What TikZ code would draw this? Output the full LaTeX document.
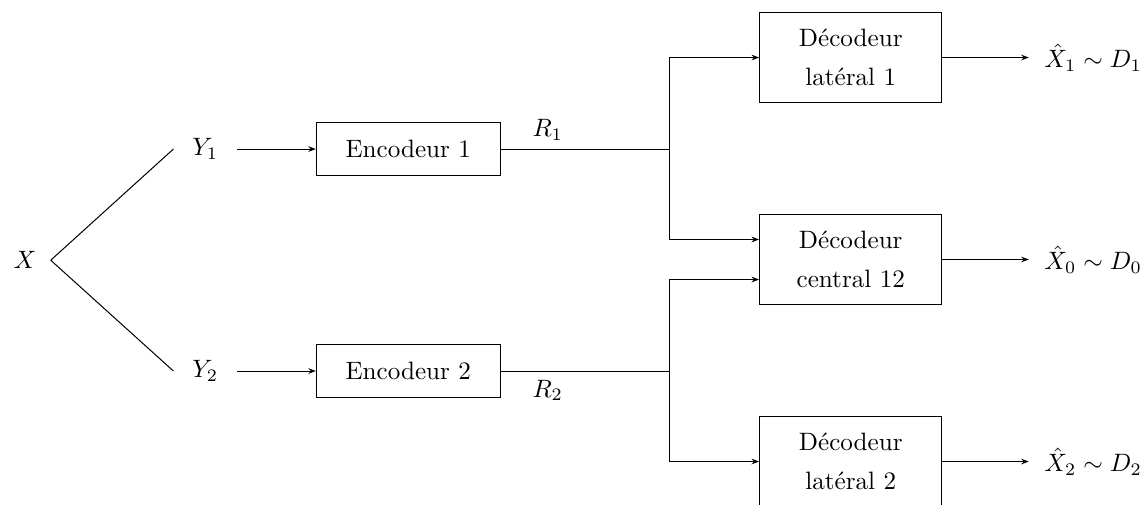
\documentclass[tikz,border=0pt]{standalone}
\usepackage{amsmath}
\usepackage{amssymb}
\usepackage{tikz}
\usetikzlibrary{arrows.meta, positioning, calc}

\tikzset{
  encbox/.style={draw, minimum width=2.57cm, minimum height=0.73cm},
  decbox/.style={draw, minimum width=2.55cm, minimum height=1.27cm, align=center},
  varnode/.style={inner xsep=7.3pt},
  outnode/.style={anchor=west, inner xsep=6pt}
}

\begin{document}
\begin{tikzpicture}[>={Stealth[length=3pt]}]
\useasboundingbox (0,0) rectangle (16.03,7.05);

% === Source and its two descriptions ===
\node[inner xsep=5.5pt] (src) at (0.35,3.41) {$X$};
\node[varnode] (y1) at (2.87,4.965) {$Y_1$};
\node[varnode] (y2) at (2.87,1.86) {$Y_2$};

\draw (src.east) -- (y1.west);
\draw (src.east) -- (y2.west);

% === Encoders ===
\node[encbox] (enc1) at (5.71,4.965) {Encodeur 1};
\node[encbox] (enc2) at (5.71,1.86) {Encodeur 2};

\draw[->] (y1) -- (enc1);
\draw[->] (y2) -- (enc2);

% branching points
\coordinate (split1) at (9.36,4.965);
\coordinate (split2) at (9.36,1.86);

\draw (enc1.east) -- node[above, pos=0.28] {$R_1$} (split1);
\draw (enc2.east) -- node[below, pos=0.28] {$R_2$} (split2);

% === Decoders ===
\node[decbox] (lat1) at (11.90,6.245) {D\'ecodeur\\[3.5pt]lat\'eral 1};
\node[decbox] (cen) at (11.90,3.42) {D\'ecodeur\\[3.5pt]central 12};
\node[decbox] (lat2) at (11.90,0.594) {D\'ecodeur\\[3.5pt]lat\'eral 2};

\draw[->] (split1) |- (lat1.west);
\draw[->] (split1) |- ([yshift=0.28cm]cen.west);
\draw[->] (split2) |- ([yshift=-0.28cm]cen.west);
\draw[->] (split2) |- (lat2.west);

% === Reconstructions ===
\node[outnode] (out1) at (14.39,6.245) {$\hat{X}_1 \sim D_1$};
\node[outnode] (out0) at (14.39,3.42) {$\hat{X}_0 \sim D_0$};
\node[outnode] (out2) at (14.39,0.594) {$\hat{X}_2 \sim D_2$};

\draw[->] (lat1) -- (out1);
\draw[->] (cen) -- (out0);
\draw[->] (lat2) -- (out2);

\end{tikzpicture}
\end{document}
